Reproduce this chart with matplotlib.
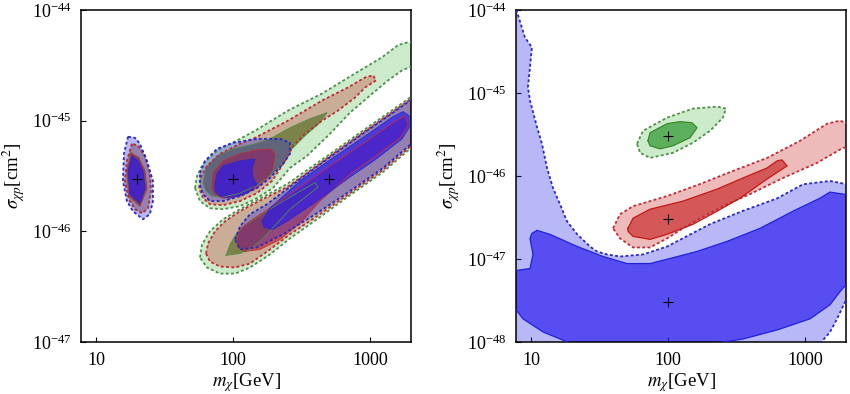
import numpy as np
import matplotlib
matplotlib.use("Agg")
import matplotlib.pyplot as plt
from matplotlib.ticker import FixedLocator, FixedFormatter, LogFormatterMathtext, NullLocator

plt.rcParams['font.family'] = ['Liberation Serif', 'DejaVu Serif']
plt.rcParams['mathtext.fontset'] = 'stix'

# ---------------- data: contour outlines as (log10 m [GeV], log10 sigma [cm^2]) ----------------
# Left panel ------------------------------------------------------------
L_B2_20 = [(1.234,-45.145),(1.204,-45.300),(1.197,-45.545),(1.226,-45.727),(1.270,-45.818),(1.343,-45.891),
           (1.394,-45.845),(1.416,-45.727),(1.416,-45.545),(1.372,-45.364),(1.321,-45.209),(1.285,-45.155)]
L_RG2_20 = [(1.263,-45.209),(1.226,-45.364),(1.212,-45.545),(1.241,-45.709),(1.285,-45.800),(1.336,-45.836),
            (1.380,-45.791),(1.401,-45.636),(1.394,-45.473),(1.358,-45.318),(1.307,-45.227)]
L_B1_20 = [(1.263,-45.318),(1.234,-45.455),(1.248,-45.664),(1.321,-45.745),(1.358,-45.609),(1.343,-45.455),(1.307,-45.364)]
L_RG1_20 = [(1.255,-45.291),(1.226,-45.455),(1.241,-45.682),(1.321,-45.773),(1.372,-45.618),(1.358,-45.455),(1.314,-45.336)]

L_G2_up = [(1.723,-45.609),(1.737,-45.500),(1.781,-45.391),(1.883,-45.273),(2.051,-45.164),(2.161,-45.091),
           (2.401,-44.909),(2.650,-44.755),(2.891,-44.573),(3.088,-44.427),(3.204,-44.318),(3.277,-44.291),
           (3.328,-44.291),(3.328,-44.500),(3.234,-44.545),(3.131,-44.636),(3.000,-44.773),(2.854,-44.927),
           (2.708,-45.118),(2.540,-45.318),(2.416,-45.427),(2.292,-45.609),(2.175,-45.700),(2.051,-45.773),
           (1.927,-45.800),(1.832,-45.791),(1.759,-45.727)]
L_R2_up = [(1.752,-45.609),(1.766,-45.509),(1.810,-45.409),(1.905,-45.300),(2.051,-45.209),(2.161,-45.155),
           (2.401,-45.000),(2.650,-44.818),(2.839,-44.700),(2.964,-44.609),(3.022,-44.591),(3.044,-44.636),
           (2.964,-44.700),(2.891,-44.791),(2.766,-44.909),(2.650,-45.000),(2.526,-45.118),(2.438,-45.227),
           (2.380,-45.364),(2.285,-45.545),(2.175,-45.655),(2.051,-45.727),(1.927,-45.764),(1.832,-45.755),
           (1.781,-45.700)]
L_B2_100 = [(1.759,-45.473),(1.796,-45.364),(1.883,-45.255),(2.000,-45.200),(2.175,-45.164),(2.343,-45.164),
            (2.416,-45.200),(2.416,-45.300),(2.365,-45.391),(2.270,-45.518),(2.175,-45.609),(2.051,-45.682),
            (1.927,-45.727),(1.832,-45.727),(1.781,-45.664),(1.759,-45.582)]
L_G1_up = [(1.781,-45.564),(1.803,-45.427),(1.883,-45.318),(2.000,-45.255),(2.161,-45.209),(2.270,-45.164),
           (2.416,-45.064),(2.562,-44.982),(2.686,-44.927),(2.635,-45.018),(2.526,-45.136),(2.431,-45.255),
           (2.380,-45.364),(2.270,-45.500),(2.175,-45.582),(2.051,-45.655),(1.927,-45.691),(1.847,-45.682),
           (1.803,-45.636)]
L_R1_100 = [(1.847,-45.609),(1.854,-45.473),(1.927,-45.364),(2.051,-45.300),(2.175,-45.264),(2.270,-45.255),
            (2.307,-45.300),(2.292,-45.427),(2.248,-45.518),(2.175,-45.609),(2.051,-45.682),(1.927,-45.700),
            (1.869,-45.664)]
L_B1_100 = [(1.869,-45.573),(1.883,-45.482),(1.927,-45.409),(2.051,-45.364),(2.161,-45.345),(2.139,-45.427),
            (2.146,-45.518),(2.175,-45.573),(2.102,-45.655),(1.978,-45.700),(1.905,-45.682),(1.869,-45.636)]

L_G2_lo = [(1.759,-46.236),(1.774,-46.118),(1.832,-46.000),(1.927,-45.891),(2.051,-45.800),(2.175,-45.718),
           (2.394,-45.573),(2.489,-45.491),(2.730,-45.282),(2.978,-45.064),(3.168,-44.900),(3.292,-44.791),
           (3.365,-44.745),(3.365,-45.209),(3.292,-45.255),(3.095,-45.464),(2.854,-45.673),(2.613,-45.891),
           (2.416,-46.064),(2.270,-46.209),(2.124,-46.327),(2.015,-46.382),(1.905,-46.382),(1.810,-46.327)]
L_R2_lo = [(1.803,-46.200),(1.818,-46.109),(1.869,-46.000),(1.942,-45.909),(2.051,-45.818),(2.175,-45.736),
           (2.394,-45.600),(2.489,-45.518),(2.730,-45.300),(2.978,-45.082),(3.168,-44.918),(3.292,-44.809),
           (3.365,-44.764),(3.365,-45.191),(3.292,-45.236),(3.095,-45.445),(2.854,-45.655),(2.613,-45.864),
           (2.416,-46.027),(2.270,-46.164),(2.124,-46.291),(2.015,-46.327),(1.905,-46.318),(1.832,-46.273)]
L_B2_lo = [(2.015,-46.073),(2.051,-45.955),(2.124,-45.845),(2.248,-45.755),(2.394,-45.618),(2.489,-45.527),
           (2.730,-45.309),(2.978,-45.091),(3.168,-44.927),(3.292,-44.818),(3.365,-44.773),(3.365,-45.182),
           (3.292,-45.218),(3.095,-45.427),(2.854,-45.636),(2.613,-45.836),(2.365,-46.027),(2.175,-46.145),
           (2.051,-46.164)]
L_G1_lo = [(1.949,-46.218),(1.978,-46.118),(2.022,-46.027),(2.088,-45.945),(2.197,-45.855),(2.416,-45.691),
           (2.600,-45.560),(2.620,-45.600),(2.416,-45.800),(2.234,-46.045),(2.124,-46.164),(2.051,-46.200)]
L_R1_lo = [(2.029,-46.073),(2.051,-45.982),(2.124,-45.909),(2.234,-45.818),(2.416,-45.664),(2.730,-45.391),
           (2.978,-45.182),(3.168,-45.018),(3.255,-44.955),(3.277,-45.045),(3.219,-45.155),(3.022,-45.336),
           (2.854,-45.482),(2.635,-45.727),(2.489,-45.927),(2.343,-46.073),(2.197,-46.164),(2.088,-46.182),
           (2.036,-46.145)]
L_B1_lo = [(2.212,-45.909),(2.270,-45.791),(2.489,-45.545),(2.730,-45.336),(2.978,-45.127),(3.168,-44.964),
           (3.241,-44.918),(3.285,-44.955),(3.285,-45.064),(3.234,-45.164),(3.036,-45.355),(2.854,-45.509),
           (2.613,-45.727),(2.394,-45.909),(2.292,-45.982),(2.226,-45.964)]

L_best_m = [20, 100, 500]
L_best_s = [3e-46, 3e-46, 3e-46]

# Right panel -----------------------------------------------------------
R_B2 = [(0.80,-43.9),(0.895,-43.9),(0.898,-44.02),(0.956,-44.33),(1.007,-44.45),(0.993,-44.69),(0.978,-44.93),
        (0.993,-45.09),(1.044,-45.41),(1.080,-45.61),(1.117,-45.90),(1.161,-46.145),(1.212,-46.34),
        (1.263,-46.545),(1.336,-46.70),(1.431,-46.85),(1.482,-46.91),(1.555,-46.945),(1.650,-46.97),
        (1.818,-46.945),(1.993,-46.85),(2.109,-46.75),(2.307,-46.58),(2.547,-46.42),(2.796,-46.27),
        (2.985,-46.10),(3.182,-46.06),(3.307,-46.10),(3.40,-46.10),(3.40,-47.48),(3.292,-47.515),
        (3.234,-47.72),(3.182,-47.88),(3.109,-48.02),(3.109,-48.2),(0.80,-48.2)]
R_B1 = [(0.80,-47.139),(0.891,-47.139),(0.993,-47.115),(1.015,-46.945),(0.993,-46.752),(1.007,-46.691),
        (1.044,-46.655),(1.139,-46.703),(1.336,-46.848),(1.526,-46.970),(1.701,-47.055),(1.869,-47.055),
        (2.015,-46.994),(2.212,-46.909),(2.431,-46.788),(2.672,-46.630),(2.912,-46.424),(3.109,-46.267),
        (3.182,-46.194),(3.277,-46.218),(3.40,-46.24),(3.40,-47.115),(3.255,-47.394),(3.182,-47.552),
        (3.036,-47.721),(2.796,-47.855),(2.547,-47.964),(2.358,-48.012),(2.30,-48.2),(1.25,-48.2),
        (1.285,-48.012),(1.088,-47.879),(0.942,-47.721),(0.891,-47.612),(0.80,-47.55)]
R_R2 = [(1.599,-46.630),(1.650,-46.461),(1.745,-46.364),(1.993,-46.242),(2.234,-46.097),(2.474,-45.939),
        (2.723,-45.782),(2.964,-45.576),(3.161,-45.370),(3.255,-45.333),(3.314,-45.370),(3.40,-45.40),
        (3.40,-45.64),(3.277,-45.661),(3.088,-45.842),(2.839,-46.024),(2.599,-46.218),(2.431,-46.339),
        (2.234,-46.509),(2.109,-46.630),(1.993,-46.752),(1.869,-46.861),(1.745,-46.861),(1.650,-46.752)]
R_R1 = [(1.708,-46.630),(1.745,-46.509),(1.869,-46.400),(2.109,-46.303),(2.358,-46.158),(2.547,-46.024),
        (2.723,-45.903),(2.796,-45.818),(2.832,-45.806),(2.869,-45.879),(2.723,-46.036),(2.526,-46.267),
        (2.358,-46.424),(2.182,-46.582),(1.993,-46.703),(1.869,-46.764),(1.745,-46.727),(1.708,-46.667)]
R_G2 = [(1.774,-45.612),(1.818,-45.455),(1.993,-45.297),(2.182,-45.188),(2.358,-45.164),(2.423,-45.188),
        (2.401,-45.297),(2.307,-45.455),(2.182,-45.600),(2.036,-45.721),(1.869,-45.782),(1.796,-45.721)]
R_G1 = [(1.854,-45.576),(1.869,-45.479),(1.993,-45.370),(2.088,-45.345),(2.175,-45.358),(2.212,-45.418),
        (2.161,-45.539),(2.036,-45.636),(1.942,-45.673),(1.869,-45.636)]

R_best_m = [100, 100, 100]
R_best_s = [3e-46, 3e-47, 3e-48]

x_ticks = [10, 100, 1000]
x_ticklabels = ["10", "100", "1000"]
L_yticks = [1e-47, 1e-46, 1e-45, 1e-44]
R_yticks = [1e-48, 1e-47, 1e-46, 1e-45, 1e-44]

# ---------------- styles ----------------
G_LIGHT = (0.20, 0.70, 0.20, 0.25)
G_DARK = (0.20, 0.60, 0.20, 0.73)
R_LIGHT = (0.78, 0.12, 0.12, 0.30)
R_DARK = (0.78, 0.12, 0.12, 0.63)
B_LIGHT = (0.16, 0.16, 0.90, 0.33)
B_DARK = (0.16, 0.10, 0.94, 0.68)
G_LINE, R_LINE, B_LINE = "#4f9048", "#c42a36", "#2828c8"
DASH = (0, (1.6, 1.3))


def region(ax, pts, fc, ec, dashed, lw1=0.9):
    a = np.array(pts + [pts[0]], dtype=float)
    m, s = 10 ** a[:, 0], 10 ** a[:, 1]
    ax.fill(m, s, color=fc, lw=0, zorder=2)
    if dashed:
        ax.plot(m, s, color=ec, lw=1.3, ls=DASH, zorder=3)
    else:
        ax.plot(m, s, color=ec, lw=lw1, ls='-', zorder=3)


fig = plt.figure(figsize=(8.5, 3.94), dpi=100)
axL = fig.add_axes([81/850, 1-342/394, 330/850, 332/394])
axR = fig.add_axes([516/850, 1-342/394, 330/850, 332/394])

# left panel: green, then red, then blue
for pts in [L_RG2_20, L_G2_up, L_G2_lo]:
    region(axL, pts, G_LIGHT, G_LINE, True)
for pts in [L_RG1_20, L_G1_up, L_G1_lo]:
    region(axL, pts, G_DARK, G_LINE, False, 0.6)
for pts in [L_RG2_20, L_R2_up, L_R2_lo]:
    region(axL, pts, R_LIGHT, R_LINE, True)
for pts in [L_RG1_20, L_R1_100, L_R1_lo]:
    region(axL, pts, R_DARK, R_LINE, False, 0.6)
for pts in [L_B2_20, L_B2_100, L_B2_lo]:
    region(axL, pts, B_LIGHT, B_LINE, True)
for pts in [L_B1_20, L_B1_100, L_B1_lo]:
    region(axL, pts, B_DARK, B_LINE, False, 0.6)
axL.plot(L_best_m, L_best_s, ls='none', marker='+', ms=7, mew=0.8, color='black', zorder=5)

# right panel
region(axR, R_G2, G_LIGHT, G_LINE, True)
region(axR, R_G1, G_DARK, "#3a8a2a", False)
region(axR, R_R2, R_LIGHT, R_LINE, True)
region(axR, R_R1, R_DARK, "#c41818", False)
region(axR, R_B2, B_LIGHT, B_LINE, True)
region(axR, R_B1, B_DARK, "#2020e0", False)
axR.plot(R_best_m, R_best_s, ls='none', marker='+', ms=7, mew=0.8, color='black', zorder=5)

for ax, yt, ylo in [(axL, L_yticks, 1e-47), (axR, R_yticks, 1e-48)]:
    ax.set_xscale('log')
    ax.set_yscale('log')
    ax.set_xlim(7.78, 1990)
    ax.set_ylim(ylo, 1e-44)
    ax.xaxis.set_major_locator(FixedLocator(x_ticks))
    ax.xaxis.set_major_formatter(FixedFormatter(x_ticklabels))
    ax.xaxis.set_minor_locator(NullLocator())
    ax.yaxis.set_major_locator(FixedLocator(yt))
    ax.yaxis.set_major_formatter(LogFormatterMathtext())
    ax.yaxis.set_minor_locator(NullLocator())
    ax.tick_params(direction='in', length=3.5, width=0.8, labelsize=13, pad=7, colors='black')
    for sp in ax.spines.values():
        sp.set_linewidth(1.1)
    ax.set_xlabel(r'$m_\chi$[GeV]', fontsize=13.5, labelpad=2)
    ax.set_ylabel(r'$\sigma_{\chi p}$[cm$^2$]', fontsize=13.5, labelpad=3)

fig.savefig("out.png", dpi=100)
